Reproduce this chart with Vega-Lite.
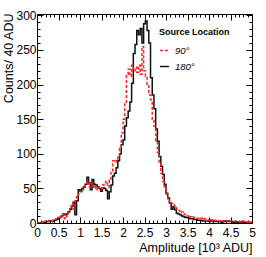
{
  "$schema": "https://vega.github.io/schema/vega-lite/v6.json",
  "width": 215,
  "height": 209,
  "autosize": {"type": "none"},
  "padding": {"left": 37, "top": 14, "right": 14, "bottom": 34},
  "background": "white",
  "config": {
    "view": {"stroke": "black", "strokeWidth": 1},
    "font": "Liberation Sans Narrow, Liberation Sans, Arial",
    "axis": {"grid": false, "domain": false, "tickColor": "black", "labelColor": "black", "titleColor": "black", "labelFont": "Liberation Sans Narrow, Liberation Sans", "titleFont": "Liberation Sans Narrow, Liberation Sans", "titleFontWeight": "normal"}
  },
  "datasets": {
    "h": [
      {"x":0.00,"n":0,"loc":"180°"},{"x":0.04,"n":0,"loc":"180°"},{"x":0.08,"n":0,"loc":"180°"},{"x":0.12,"n":1,"loc":"180°"},{"x":0.16,"n":1,"loc":"180°"},
      {"x":0.20,"n":2,"loc":"180°"},{"x":0.24,"n":2,"loc":"180°"},{"x":0.28,"n":3,"loc":"180°"},{"x":0.32,"n":2,"loc":"180°"},{"x":0.36,"n":3,"loc":"180°"},
      {"x":0.40,"n":4,"loc":"180°"},{"x":0.44,"n":5,"loc":"180°"},{"x":0.48,"n":6,"loc":"180°"},{"x":0.52,"n":8,"loc":"180°"},{"x":0.56,"n":10,"loc":"180°"},
      {"x":0.60,"n":13,"loc":"180°"},{"x":0.64,"n":12,"loc":"180°"},{"x":0.68,"n":13,"loc":"180°"},{"x":0.72,"n":16,"loc":"180°"},{"x":0.76,"n":20,"loc":"180°"},
      {"x":0.80,"n":24,"loc":"180°"},{"x":0.84,"n":30,"loc":"180°"},{"x":0.88,"n":12,"loc":"180°"},{"x":0.92,"n":32,"loc":"180°"},{"x":0.96,"n":48,"loc":"180°"},
      {"x":1.00,"n":46,"loc":"180°"},{"x":1.04,"n":50,"loc":"180°"},{"x":1.08,"n":52,"loc":"180°"},{"x":1.12,"n":56,"loc":"180°"},{"x":1.16,"n":66,"loc":"180°"},
      {"x":1.20,"n":58,"loc":"180°"},{"x":1.24,"n":48,"loc":"180°"},{"x":1.28,"n":63,"loc":"180°"},{"x":1.32,"n":56,"loc":"180°"},{"x":1.36,"n":55,"loc":"180°"},
      {"x":1.40,"n":52,"loc":"180°"},{"x":1.44,"n":50,"loc":"180°"},{"x":1.48,"n":46,"loc":"180°"},{"x":1.52,"n":51,"loc":"180°"},{"x":1.56,"n":50,"loc":"180°"},
      {"x":1.60,"n":47,"loc":"180°"},{"x":1.64,"n":35,"loc":"180°"},{"x":1.68,"n":45,"loc":"180°"},{"x":1.72,"n":55,"loc":"180°"},{"x":1.76,"n":68,"loc":"180°"},
      {"x":1.80,"n":72,"loc":"180°"},{"x":1.84,"n":80,"loc":"180°"},{"x":1.88,"n":90,"loc":"180°"},{"x":1.92,"n":100,"loc":"180°"},{"x":1.96,"n":113,"loc":"180°"},
      {"x":2.00,"n":120,"loc":"180°"},{"x":2.04,"n":140,"loc":"180°"},{"x":2.08,"n":152,"loc":"180°"},{"x":2.12,"n":162,"loc":"180°"},{"x":2.16,"n":175,"loc":"180°"},
      {"x":2.20,"n":202,"loc":"180°"},{"x":2.24,"n":245,"loc":"180°"},{"x":2.28,"n":258,"loc":"180°"},{"x":2.32,"n":278,"loc":"180°"},{"x":2.36,"n":272,"loc":"180°"},
      {"x":2.40,"n":281,"loc":"180°"},{"x":2.44,"n":260,"loc":"180°"},{"x":2.48,"n":288,"loc":"180°"},{"x":2.52,"n":292,"loc":"180°"},{"x":2.56,"n":278,"loc":"180°"},
      {"x":2.60,"n":260,"loc":"180°"},{"x":2.64,"n":210,"loc":"180°"},{"x":2.68,"n":185,"loc":"180°"},{"x":2.72,"n":165,"loc":"180°"},{"x":2.76,"n":136,"loc":"180°"},
      {"x":2.80,"n":118,"loc":"180°"},{"x":2.84,"n":96,"loc":"180°"},{"x":2.88,"n":82,"loc":"180°"},{"x":2.92,"n":70,"loc":"180°"},{"x":2.96,"n":56,"loc":"180°"},
      {"x":3.00,"n":43,"loc":"180°"},{"x":3.04,"n":36,"loc":"180°"},{"x":3.08,"n":29,"loc":"180°"},{"x":3.12,"n":20,"loc":"180°"},{"x":3.16,"n":24,"loc":"180°"},
      {"x":3.20,"n":19,"loc":"180°"},{"x":3.24,"n":14,"loc":"180°"},{"x":3.28,"n":13,"loc":"180°"},{"x":3.32,"n":12,"loc":"180°"},{"x":3.36,"n":10,"loc":"180°"},
      {"x":3.40,"n":9,"loc":"180°"},{"x":3.44,"n":8,"loc":"180°"},{"x":3.48,"n":8,"loc":"180°"},{"x":3.52,"n":7,"loc":"180°"},{"x":3.56,"n":6,"loc":"180°"},
      {"x":3.60,"n":6,"loc":"180°"},{"x":3.64,"n":5,"loc":"180°"},{"x":3.68,"n":5,"loc":"180°"},{"x":3.72,"n":4,"loc":"180°"},{"x":3.76,"n":4,"loc":"180°"},
      {"x":3.80,"n":4,"loc":"180°"},{"x":3.84,"n":3,"loc":"180°"},{"x":3.88,"n":3,"loc":"180°"},{"x":3.92,"n":3,"loc":"180°"},{"x":3.96,"n":3,"loc":"180°"},
      {"x":4.00,"n":2,"loc":"180°"},{"x":4.04,"n":4,"loc":"180°"},{"x":4.08,"n":2,"loc":"180°"},{"x":4.12,"n":3,"loc":"180°"},{"x":4.16,"n":2,"loc":"180°"},
      {"x":4.20,"n":2,"loc":"180°"},{"x":4.24,"n":2,"loc":"180°"},{"x":4.28,"n":1,"loc":"180°"},{"x":4.32,"n":2,"loc":"180°"},{"x":4.36,"n":3,"loc":"180°"},
      {"x":4.40,"n":2,"loc":"180°"},{"x":4.44,"n":3,"loc":"180°"},{"x":4.48,"n":2,"loc":"180°"},{"x":4.52,"n":2,"loc":"180°"},{"x":4.56,"n":1,"loc":"180°"},
      {"x":4.60,"n":2,"loc":"180°"},{"x":4.64,"n":1,"loc":"180°"},{"x":4.68,"n":1,"loc":"180°"},{"x":4.72,"n":1,"loc":"180°"},{"x":4.76,"n":2,"loc":"180°"},
      {"x":4.80,"n":1,"loc":"180°"},{"x":4.84,"n":1,"loc":"180°"},{"x":4.88,"n":1,"loc":"180°"},{"x":4.92,"n":1,"loc":"180°"},{"x":4.96,"n":1,"loc":"180°"},
      {"x":5.00,"n":1,"loc":"180°"},
      {"x":0.00,"n":0,"loc":"90°"},{"x":0.04,"n":0,"loc":"90°"},{"x":0.08,"n":1,"loc":"90°"},{"x":0.12,"n":0,"loc":"90°"},{"x":0.16,"n":2,"loc":"90°"},
      {"x":0.20,"n":3,"loc":"90°"},{"x":0.24,"n":2,"loc":"90°"},{"x":0.28,"n":4,"loc":"90°"},{"x":0.32,"n":3,"loc":"90°"},{"x":0.36,"n":4,"loc":"90°"},
      {"x":0.40,"n":5,"loc":"90°"},{"x":0.44,"n":6,"loc":"90°"},{"x":0.48,"n":8,"loc":"90°"},{"x":0.52,"n":10,"loc":"90°"},{"x":0.56,"n":8,"loc":"90°"},
      {"x":0.60,"n":12,"loc":"90°"},{"x":0.64,"n":6,"loc":"90°"},{"x":0.68,"n":10,"loc":"90°"},{"x":0.72,"n":18,"loc":"90°"},{"x":0.76,"n":22,"loc":"90°"},
      {"x":0.80,"n":28,"loc":"90°"},{"x":0.84,"n":20,"loc":"90°"},{"x":0.88,"n":32,"loc":"90°"},{"x":0.92,"n":38,"loc":"90°"},{"x":0.96,"n":42,"loc":"90°"},
      {"x":1.00,"n":45,"loc":"90°"},{"x":1.04,"n":48,"loc":"90°"},{"x":1.08,"n":50,"loc":"90°"},{"x":1.12,"n":55,"loc":"90°"},{"x":1.16,"n":60,"loc":"90°"},
      {"x":1.20,"n":52,"loc":"90°"},{"x":1.24,"n":57,"loc":"90°"},{"x":1.28,"n":54,"loc":"90°"},{"x":1.32,"n":50,"loc":"90°"},{"x":1.36,"n":53,"loc":"90°"},
      {"x":1.40,"n":48,"loc":"90°"},{"x":1.44,"n":52,"loc":"90°"},{"x":1.48,"n":50,"loc":"90°"},{"x":1.52,"n":55,"loc":"90°"},{"x":1.56,"n":56,"loc":"90°"},
      {"x":1.60,"n":60,"loc":"90°"},{"x":1.64,"n":52,"loc":"90°"},{"x":1.68,"n":62,"loc":"90°"},{"x":1.72,"n":75,"loc":"90°"},{"x":1.76,"n":90,"loc":"90°"},
      {"x":1.80,"n":88,"loc":"90°"},{"x":1.84,"n":92,"loc":"90°"},{"x":1.88,"n":95,"loc":"90°"},{"x":1.92,"n":108,"loc":"90°"},{"x":1.96,"n":130,"loc":"90°"},
      {"x":2.00,"n":150,"loc":"90°"},{"x":2.04,"n":172,"loc":"90°"},{"x":2.08,"n":215,"loc":"90°"},{"x":2.12,"n":222,"loc":"90°"},{"x":2.16,"n":212,"loc":"90°"},
      {"x":2.20,"n":228,"loc":"90°"},{"x":2.24,"n":220,"loc":"90°"},{"x":2.28,"n":225,"loc":"90°"},{"x":2.32,"n":218,"loc":"90°"},{"x":2.36,"n":228,"loc":"90°"},
      {"x":2.40,"n":215,"loc":"90°"},{"x":2.44,"n":255,"loc":"90°"},{"x":2.48,"n":220,"loc":"90°"},{"x":2.52,"n":212,"loc":"90°"},{"x":2.56,"n":200,"loc":"90°"},
      {"x":2.60,"n":185,"loc":"90°"},{"x":2.64,"n":178,"loc":"90°"},{"x":2.68,"n":150,"loc":"90°"},{"x":2.72,"n":140,"loc":"90°"},{"x":2.76,"n":118,"loc":"90°"},
      {"x":2.80,"n":102,"loc":"90°"},{"x":2.84,"n":88,"loc":"90°"},{"x":2.88,"n":72,"loc":"90°"},{"x":2.92,"n":60,"loc":"90°"},{"x":2.96,"n":50,"loc":"90°"},
      {"x":3.00,"n":42,"loc":"90°"},{"x":3.04,"n":35,"loc":"90°"},{"x":3.08,"n":30,"loc":"90°"},{"x":3.12,"n":28,"loc":"90°"},{"x":3.16,"n":26,"loc":"90°"},
      {"x":3.20,"n":22,"loc":"90°"},{"x":3.24,"n":20,"loc":"90°"},{"x":3.28,"n":18,"loc":"90°"},{"x":3.32,"n":15,"loc":"90°"},{"x":3.36,"n":16,"loc":"90°"},
      {"x":3.40,"n":13,"loc":"90°"},{"x":3.44,"n":12,"loc":"90°"},{"x":3.48,"n":10,"loc":"90°"},{"x":3.52,"n":11,"loc":"90°"},{"x":3.56,"n":9,"loc":"90°"},
      {"x":3.60,"n":10,"loc":"90°"},{"x":3.64,"n":8,"loc":"90°"},{"x":3.68,"n":8,"loc":"90°"},{"x":3.72,"n":7,"loc":"90°"},{"x":3.76,"n":6,"loc":"90°"},
      {"x":3.80,"n":7,"loc":"90°"},{"x":3.84,"n":5,"loc":"90°"},{"x":3.88,"n":6,"loc":"90°"},{"x":3.92,"n":5,"loc":"90°"},{"x":3.96,"n":4,"loc":"90°"},
      {"x":4.00,"n":5,"loc":"90°"},{"x":4.04,"n":4,"loc":"90°"},{"x":4.08,"n":3,"loc":"90°"},{"x":4.12,"n":4,"loc":"90°"},{"x":4.16,"n":3,"loc":"90°"},
      {"x":4.20,"n":3,"loc":"90°"},{"x":4.24,"n":3,"loc":"90°"},{"x":4.28,"n":2,"loc":"90°"},{"x":4.32,"n":3,"loc":"90°"},{"x":4.36,"n":2,"loc":"90°"},
      {"x":4.40,"n":3,"loc":"90°"},{"x":4.44,"n":2,"loc":"90°"},{"x":4.48,"n":3,"loc":"90°"},{"x":4.52,"n":2,"loc":"90°"},{"x":4.56,"n":2,"loc":"90°"},
      {"x":4.60,"n":2,"loc":"90°"},{"x":4.64,"n":2,"loc":"90°"},{"x":4.68,"n":2,"loc":"90°"},{"x":4.72,"n":1,"loc":"90°"},{"x":4.76,"n":2,"loc":"90°"},
      {"x":4.80,"n":2,"loc":"90°"},{"x":4.84,"n":1,"loc":"90°"},{"x":4.88,"n":1,"loc":"90°"},{"x":4.92,"n":2,"loc":"90°"},{"x":4.96,"n":1,"loc":"90°"},
      {"x":5.00,"n":1,"loc":"90°"}
    ]
  },
  "data": {"name": "h"},
  "resolve": {"axis": {"x": "independent", "y": "independent"}},
  "layer": [
    {
      "mark": {"type": "line", "interpolate": "step-after", "strokeWidth": 1.5, "clip": true},
      "encoding": {
        "x": {"field": "x", "type": "quantitative", "scale": {"domain": [0, 5], "nice": false, "zero": false},
              "axis": {"orient": "bottom", "values": [0,0.5,1,1.5,2,2.5,3,3.5,4,4.5,5], "tickSize": -6, "labelPadding": 10, "labelFontSize": 12, "labelFlush": false, "labelOverlap": false,
                       "format": "~g", "title": "Amplitude [10³ ADU]", "titleFontSize": 12.5, "titleAnchor": "end", "titlePadding": 3}},
        "y": {"field": "n", "type": "quantitative", "scale": {"domain": [0, 302], "nice": false},
              "axis": {"orient": "left", "values": [0,50,100,150,200,250,300], "tickSize": -6, "labelPadding": 7, "labelFontSize": 12, "labelFlush": false, "labelOverlap": false,
                       "title": "Counts/ 40 ADU", "titleFontSize": 12.5, "titleAnchor": "end", "titleAlign": "right", "titleX": -22, "titleY": -1}},
        "color": {"field": "loc", "type": "nominal", "scale": {"domain": ["90°", "180°"], "range": ["#ff2020", "#111111"]},
                  "legend": {"orient": "none", "legendX": 122, "legendY": 14, "title": "Source Location", "titleFontSize": 9, "titleFontWeight": "bold", "titleColor": "black",
                             "labelFontSize": 9.5, "labelFontStyle": "italic", "labelColor": "black", "symbolType": "stroke", "symbolSize": 80, "symbolStrokeWidth": 1.5, "rowPadding": 6, "titlePadding": 8, "labelOffset": 5}},
        "strokeDash": {"field": "loc", "type": "nominal", "scale": {"domain": ["90°", "180°"], "range": [[3, 2], [1, 0]]}}
      }
    },
    {
      "mark": {"type": "point", "opacity": 0},
      "encoding": {
        "x": {"field": "x", "type": "quantitative", "axis": {"orient": "bottom", "values": [0.1,0.2,0.3,0.4,0.6,0.7,0.8,0.9,1.1,1.2,1.3,1.4,1.6,1.7,1.8,1.9,2.1,2.2,2.3,2.4,2.6,2.7,2.8,2.9,3.1,3.2,3.3,3.4,3.6,3.7,3.8,3.9,4.1,4.2,4.3,4.4,4.6,4.7,4.8,4.9], "tickSize": -3, "labels": false, "title": null}},
        "y": {"field": "n", "type": "quantitative", "axis": {"orient": "left", "values": [10,20,30,40,60,70,80,90,110,120,130,140,160,170,180,190,210,220,230,240,260,270,280,290], "tickSize": -3, "labels": false, "title": null}}
      }
    },
    {
      "mark": {"type": "point", "opacity": 0},
      "encoding": {
        "x": {"field": "x", "type": "quantitative", "axis": {"orient": "top", "values": [0,0.5,1,1.5,2,2.5,3,3.5,4,4.5,5], "tickSize": -6, "labels": false, "title": null}},
        "y": {"field": "n", "type": "quantitative", "axis": {"orient": "right", "values": [0,50,100,150,200,250,300], "tickSize": -6, "labels": false, "title": null}}
      }
    },
    {
      "mark": {"type": "point", "opacity": 0},
      "encoding": {
        "x": {"field": "x", "type": "quantitative", "axis": {"orient": "top", "values": [0.1,0.2,0.3,0.4,0.6,0.7,0.8,0.9,1.1,1.2,1.3,1.4,1.6,1.7,1.8,1.9,2.1,2.2,2.3,2.4,2.6,2.7,2.8,2.9,3.1,3.2,3.3,3.4,3.6,3.7,3.8,3.9,4.1,4.2,4.3,4.4,4.6,4.7,4.8,4.9], "tickSize": -3, "labels": false, "title": null}},
        "y": {"field": "n", "type": "quantitative", "axis": {"orient": "right", "values": [10,20,30,40,60,70,80,90,110,120,130,140,160,170,180,190,210,220,230,240,260,270,280,290], "tickSize": -3, "labels": false, "title": null}}
      }
    }
  ]
}
